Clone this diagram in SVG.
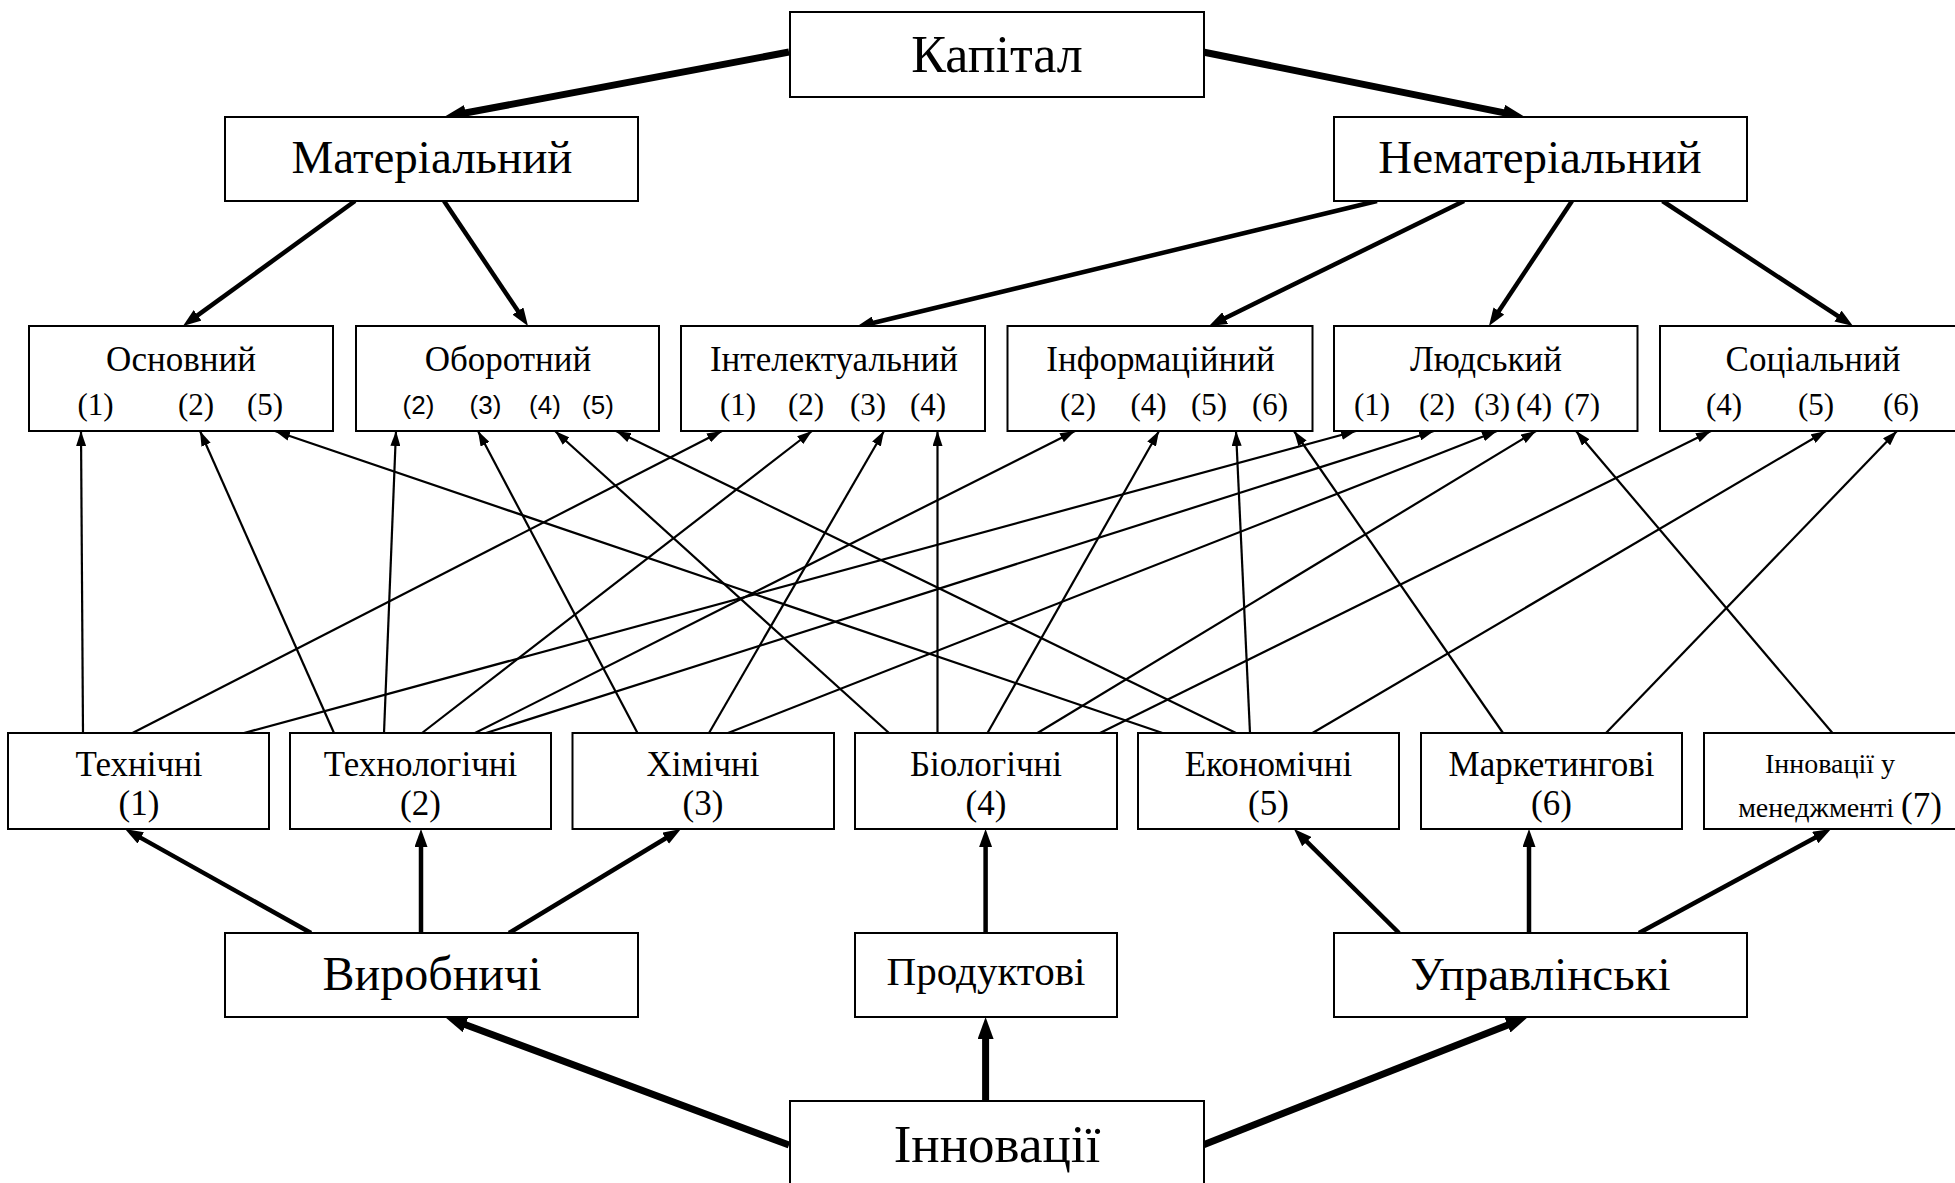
<svg xmlns="http://www.w3.org/2000/svg" width="1955" height="1183" viewBox="0 0 1955 1183">
<style>
  .box { fill: #fff; stroke: #000; stroke-width: 2; }
  text { font-family: "Liberation Serif", "Times New Roman", serif; fill: #000; text-anchor: middle; }
  .t52 { font-size: 52px; }
  .t47 { font-size: 47px; }
  .t35 { font-size: 35px; }
  .n31 { font-size: 31px; }
  .ns { font-family: "Liberation Sans", Arial, sans-serif; font-size: 26px; }
  .thin { stroke: #000; stroke-width: 2.2; fill: none; marker-end: url(#aThin); }
  .mid { stroke: #000; stroke-width: 4.5; fill: none; marker-end: url(#aMid); }
  .big { stroke: #000; stroke-width: 7; fill: none; marker-end: url(#aBig); }
</style>
<defs>
  <marker id="aThin" viewBox="0 0 15 10" refX="15" refY="5" markerWidth="15" markerHeight="10" markerUnits="userSpaceOnUse" orient="auto">
    <path d="M0,0 L15,5 L0,10 z" fill="#000"/>
  </marker>
  <marker id="aMid" viewBox="0 0 18 13" refX="6" refY="6.5" markerWidth="18" markerHeight="13" markerUnits="userSpaceOnUse" orient="auto">
    <path d="M0,0 L18,6.5 L0,13 z" fill="#000"/>
  </marker>
  <marker id="aBig" viewBox="0 0 22 16" refX="10" refY="8" markerWidth="22" markerHeight="16" markerUnits="userSpaceOnUse" orient="auto">
    <path d="M0,0 L22,8 L0,16 z" fill="#000"/>
  </marker>
</defs>
<rect x="0" y="0" width="1955" height="1183" fill="#fff"/>

<g id="connectors">
  <!-- top hierarchy -->
  <line class="big" x1="789" y1="52" x2="455.8" y2="114.8"/>
  <line class="big" x1="1203" y1="52" x2="1513.2" y2="114.6"/>
  <line class="mid" x1="355" y1="201" x2="192.7" y2="318.9"/>
  <line class="mid" x1="444" y1="201" x2="521.3" y2="316"/>
  <line class="mid" x1="1377" y1="201" x2="867.7" y2="324.2"/>
  <line class="mid" x1="1464" y1="201" x2="1219.8" y2="320.7"/>
  <line class="mid" x1="1572" y1="201" x2="1495.6" y2="316"/>
  <line class="mid" x1="1662.5" y1="201" x2="1843" y2="319.4"/>
  <!-- innovation types to categories -->
  <line class="mid" x1="311" y1="933" x2="135.5" y2="834.9"/>
  <line class="mid" x1="421" y1="933" x2="421" y2="841"/>
  <line class="mid" x1="509" y1="933" x2="670.7" y2="835.2"/>
  <line class="mid" x1="985.6" y1="933" x2="985.6" y2="841"/>
  <line class="mid" x1="1399" y1="933" x2="1302.5" y2="837.4"/>
  <line class="mid" x1="1529" y1="933" x2="1529" y2="841"/>
  <line class="mid" x1="1639" y1="933" x2="1820.5" y2="834.7"/>
  <line class="big" x1="789" y1="1145" x2="456.2" y2="1021.2"/>
  <line class="big" x1="985.6" y1="1101" x2="985.6" y2="1029"/>
  <line class="big" x1="1203" y1="1145" x2="1516.8" y2="1021.4"/>
  <!-- categories to capital forms -->
  <line class="thin" x1="83" y1="733" x2="81" y2="431"/>
  <line class="thin" x1="132.5" y1="733" x2="722" y2="431"/>
  <line class="thin" x1="244" y1="733" x2="1356" y2="431"/>
  <line class="thin" x1="334" y1="733" x2="200" y2="431"/>
  <line class="thin" x1="384" y1="733" x2="396" y2="431"/>
  <line class="thin" x1="422" y1="733" x2="812" y2="431"/>
  <line class="thin" x1="475" y1="733" x2="1075" y2="431"/>
  <line class="thin" x1="486" y1="733" x2="1434" y2="431"/>
  <line class="thin" x1="637.5" y1="733" x2="478" y2="431"/>
  <line class="thin" x1="709" y1="733" x2="884" y2="431"/>
  <line class="thin" x1="728" y1="733" x2="1497" y2="431"/>
  <line class="thin" x1="889" y1="733" x2="555" y2="431"/>
  <line class="thin" x1="937.5" y1="733" x2="937.5" y2="431"/>
  <line class="thin" x1="987.5" y1="733" x2="1159" y2="431"/>
  <line class="thin" x1="1037.5" y1="733" x2="1536" y2="431"/>
  <line class="thin" x1="1100" y1="733" x2="1711" y2="431"/>
  <line class="thin" x1="1162.5" y1="733" x2="275" y2="431"/>
  <line class="thin" x1="1236" y1="733" x2="616" y2="431"/>
  <line class="thin" x1="1250" y1="733" x2="1236" y2="431"/>
  <line class="thin" x1="1312.5" y1="733" x2="1826" y2="431"/>
  <line class="thin" x1="1503" y1="733" x2="1294" y2="431"/>
  <line class="thin" x1="1606" y1="733" x2="1897" y2="431"/>
  <line class="thin" x1="1832.5" y1="733" x2="1576" y2="431"/>
</g>

<g id="kapital"><rect class="box" x="790" y="12" width="414" height="85"/><text class="t52" x="997" y="72">Капітал</text></g>
<g id="materialnyi"><rect class="box" x="225" y="117" width="413" height="84"/><text class="t47" x="432" y="173">Матеріальний</text></g>
<g id="nematerialnyi"><rect class="box" x="1334" y="117" width="413" height="84"/><text class="t47" x="1540" y="173">Нематеріальний</text></g>

<g id="osnovnyi"><rect class="box" x="29" y="326" width="304" height="105"/>
  <text class="t35" x="181" y="371">Основний</text>
  <text class="n31" x="95.5" y="415">(1)</text><text class="n31" x="196" y="415">(2)</text><text class="n31" x="265" y="415">(5)</text></g>
<g id="oborotnyi"><rect class="box" x="356" y="326" width="303" height="105"/>
  <text class="t35" x="508" y="371">Оборотний</text>
  <text class="ns" x="418.5" y="414">(2)</text><text class="ns" x="485.5" y="414">(3)</text><text class="ns" x="545" y="414">(4)</text><text class="ns" x="598" y="414">(5)</text></g>
<g id="intelektualnyi"><rect class="box" x="681" y="326" width="304" height="105"/>
  <text class="t35" x="834" y="371">Інтелектуальний</text>
  <text class="n31" x="738" y="415">(1)</text><text class="n31" x="806" y="415">(2)</text><text class="n31" x="868" y="415">(3)</text><text class="n31" x="928" y="415">(4)</text></g>
<g id="informatsiinyi"><rect class="box" x="1007.5" y="326" width="305" height="105"/>
  <text class="t35" x="1160.5" y="371">Інформаційний</text>
  <text class="n31" x="1078" y="415">(2)</text><text class="n31" x="1148.5" y="415">(4)</text><text class="n31" x="1209" y="415">(5)</text><text class="n31" x="1270" y="415">(6)</text></g>
<g id="liudskyi"><rect class="box" x="1334" y="326" width="303.5" height="105"/>
  <text class="t35" x="1486" y="371">Людський</text>
  <text class="n31" x="1372" y="415">(1)</text><text class="n31" x="1437" y="415">(2)</text><text class="n31" x="1492" y="415">(3)</text><text class="n31" x="1534" y="415">(4)</text><text class="n31" x="1582" y="415">(7)</text></g>
<g id="sotsialnyi"><rect class="box" x="1660" y="326" width="304" height="105"/>
  <text class="t35" x="1813" y="371">Соціальний</text>
  <text class="n31" x="1724" y="415">(4)</text><text class="n31" x="1816" y="415">(5)</text><text class="n31" x="1901" y="415">(6)</text></g>

<g id="tekhnichni"><rect class="box" x="8" y="733" width="261" height="96"/>
  <text class="t35" x="139" y="776">Технічні</text><text class="t35" x="139" y="815">(1)</text></g>
<g id="tekhnolohichni"><rect class="box" x="290" y="733" width="261" height="96"/>
  <text class="t35" x="420.5" y="776">Технологічні</text><text class="t35" x="420.5" y="815">(2)</text></g>
<g id="khimichni"><rect class="box" x="572.5" y="733" width="261.5" height="96"/>
  <text class="t35" x="703" y="776">Хімічні</text><text class="t35" x="703" y="815">(3)</text></g>
<g id="biolohichni"><rect class="box" x="855" y="733" width="262" height="96"/>
  <text class="t35" x="986" y="776">Біологічні</text><text class="t35" x="986" y="815">(4)</text></g>
<g id="ekonomichni"><rect class="box" x="1138" y="733" width="261" height="96"/>
  <text class="t35" x="1268.5" y="776">Економічні</text><text class="t35" x="1268.5" y="815">(5)</text></g>
<g id="marketynhovi"><rect class="box" x="1421" y="733" width="261" height="96"/>
  <text class="t35" x="1551.5" y="776">Маркетингові</text><text class="t35" x="1551.5" y="815">(6)</text></g>
<g id="menedzhment"><rect class="box" x="1704" y="733" width="262" height="96"/>
  <text x="1830" y="773" style="font-size:28px">Інновації у</text>
  <text x="1840" y="817"><tspan style="font-size:28px">менеджменті </tspan><tspan style="font-size:35px">(7)</tspan></text></g>

<g id="vyrobnychi"><rect class="box" x="225" y="933" width="413" height="84"/><text x="432" y="990" style="font-size:48px">Виробничі</text></g>
<g id="produktovi"><rect class="box" x="855" y="933" width="262" height="84"/><text x="986" y="985" style="font-size:41px">Продуктові</text></g>
<g id="upravlinski"><rect class="box" x="1334" y="933" width="413" height="84"/><text class="t47" x="1540.5" y="990">Управлінські</text></g>
<g id="innovatsii"><rect class="box" x="790" y="1101" width="414" height="95"/><text x="997" y="1162" style="font-size:53px">Інновації</text></g>
</svg>
